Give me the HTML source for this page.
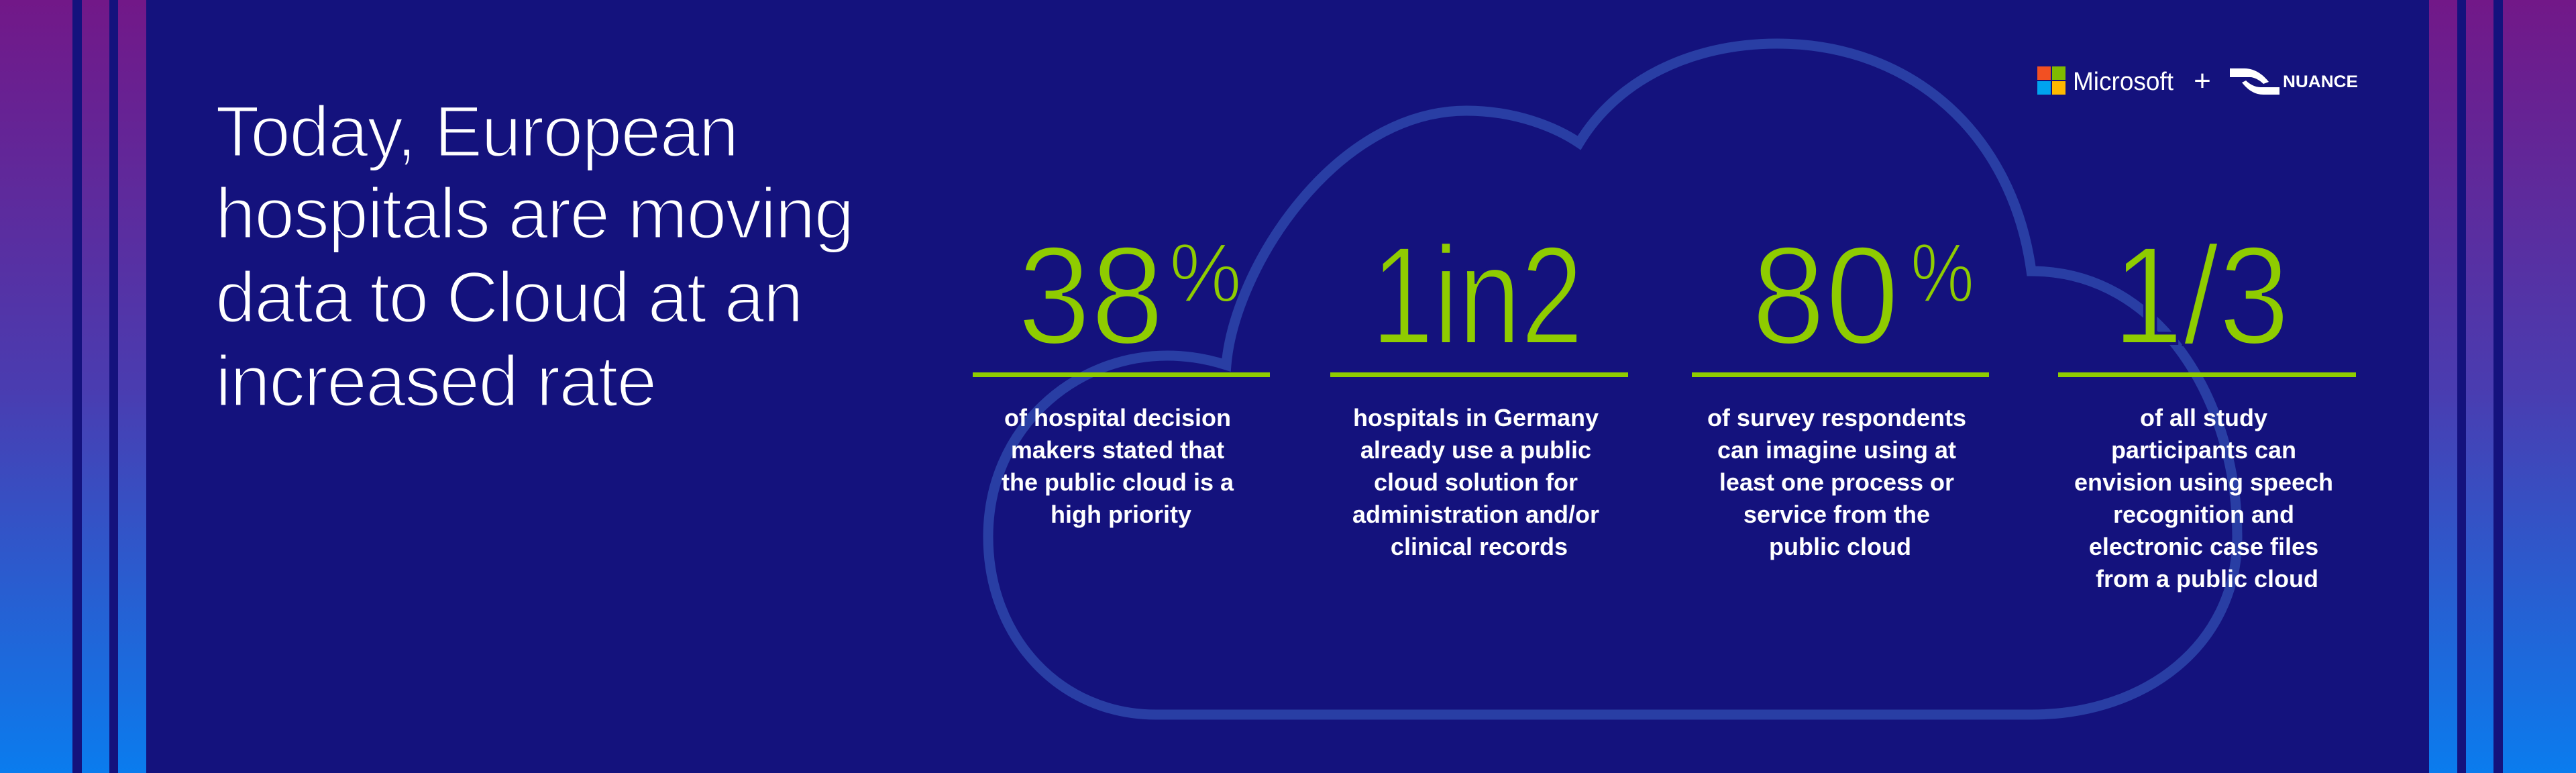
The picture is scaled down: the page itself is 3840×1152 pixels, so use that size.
<!DOCTYPE html>
<html><head><meta charset="utf-8"><style>
html,body{margin:0;padding:0;background:#14127d;}
svg{display:block;}
</style></head><body>
<svg width="3840" height="1152" viewBox="0 0 3840 1152" xmlns="http://www.w3.org/2000/svg">
<defs>
<linearGradient id="g" x1="0" y1="0" x2="0" y2="1">
<stop offset="0" stop-color="#721888"/>
<stop offset="0.5" stop-color="#4a3cb0"/>
<stop offset="1" stop-color="#0a7cee"/>
</linearGradient>
</defs>
<rect x="0" y="0" width="3840" height="1152" fill="#14127d"/>
<g>
<rect x="0" y="0" width="108" height="1152" fill="url(#g)"/>
<rect x="122" y="0" width="41" height="1152" fill="url(#g)"/>
<rect x="176" y="0" width="42" height="1152" fill="url(#g)"/>
</g>
<g>
<rect x="3621" y="0" width="42" height="1152" fill="url(#g)"/>
<rect x="3676" y="0" width="41" height="1152" fill="url(#g)"/>
<rect x="3731" y="0" width="109" height="1152" fill="url(#g)"/>
</g>
<path fill="none" stroke="#293ea4" stroke-width="15" stroke-linejoin="miter"
d="M 1723 1065 C 1580 1065 1473 950 1473 800 C 1473 640 1600 530 1740 530 C 1770 530 1800 535 1828 544 C 1840 400 1990 165 2186 165 C 2260 165 2320 190 2354 213 C 2410 120 2520 65 2649 65 C 2850 65 3000 200 3028 404 C 3220 404 3335 600 3335 800 C 3335 960 3200 1065 3028 1065 Z"/>

<g font-family="Liberation Sans, sans-serif" font-size="108" fill="#ffffff" stroke="#14127d" stroke-width="3" letter-spacing="-2">
<text x="321" y="233">Today, European</text>
<text x="321" y="355">hospitals are moving</text>
<text x="321" y="480">data to Cloud at an</text>
<text x="321" y="605">increased rate</text>
</g>

<g>
<rect x="3037" y="99" width="20" height="20" fill="#f25022"/>
<rect x="3059" y="99" width="20" height="20" fill="#7fba00"/>
<rect x="3037" y="121" width="20" height="20" fill="#00a4ef"/>
<rect x="3059" y="121" width="20" height="20" fill="#ffb900"/>
<text x="3090" y="134" font-family="Liberation Sans, sans-serif" font-size="38" fill="#fff" textLength="150" lengthAdjust="spacingAndGlyphs">Microsoft</text>
<text x="3283" y="135" font-family="Liberation Sans, sans-serif" font-size="44" fill="#fff" text-anchor="middle">+</text>
<path d="M3324 102 h22 c16 0 28 10 36 20 l-8 3 c-6 -6 -14 -10 -20 -10 h-30 z M3398 141 h-24 c-14 0 -24 -8 -32 -18 l6 -3 c6 6 14 10 22 10 h28 z" fill="#fff"/>
<text x="3403" y="130" font-family="Liberation Sans, sans-serif" font-size="25" font-weight="bold" fill="#fff" textLength="112" lengthAdjust="spacingAndGlyphs">NUANCE</text>
</g>

<g font-family="Liberation Sans, sans-serif" fill="#8fcc00" stroke="#14127d" stroke-width="4">
<g>
<text x="1517" y="512" font-size="208" textLength="218" lengthAdjust="spacingAndGlyphs">38</text>
<text x="1743" y="450" font-size="125" stroke-width="3" textLength="108" lengthAdjust="spacingAndGlyphs">%</text>
</g>
<text x="2044" y="512" font-size="208" textLength="316" lengthAdjust="spacingAndGlyphs">1in2</text>
<g>
<text x="2611" y="512" font-size="208" textLength="220" lengthAdjust="spacingAndGlyphs">80</text>
<text x="2848" y="450" font-size="125" stroke-width="3" textLength="95" lengthAdjust="spacingAndGlyphs">%</text>
</g>
<text x="3149" y="512" font-size="208" textLength="264" lengthAdjust="spacingAndGlyphs">1/3</text>
</g>

<g fill="#8fcc00">
<rect x="1450" y="555" width="443" height="7"/>
<rect x="1983" y="555" width="444" height="7"/>
<rect x="2522" y="555" width="443" height="7"/>
<rect x="3068" y="555" width="444" height="7"/>
</g>

<g font-family="Liberation Sans, sans-serif" font-size="36" font-weight="bold" fill="#ffffff" text-anchor="middle">
<text x="1671">
<tspan x="1671" y="635">of hospital decision</tspan>
<tspan x="1671" y="683">makers stated that</tspan>
<tspan x="1671" y="731">the public cloud is a</tspan>
<tspan x="1671" y="779">high priority</tspan>
</text>
<text x="2205">
<tspan x="2205" y="635">hospitals in Germany</tspan>
<tspan x="2205" y="683">already use a public</tspan>
<tspan x="2205" y="731">cloud solution for</tspan>
<tspan x="2205" y="779">administration and/or</tspan>
<tspan x="2205" y="827">clinical records</tspan>
</text>
<text x="2743">
<tspan x="2743" y="635">of survey respondents</tspan>
<tspan x="2743" y="683">can  imagine using at</tspan>
<tspan x="2743" y="731">least one process or</tspan>
<tspan x="2743" y="779">service from the</tspan>
<tspan x="2743" y="827">public cloud</tspan>
</text>
<text x="3290">
<tspan x="3290" y="635">of all study</tspan>
<tspan x="3290" y="683">participants can</tspan>
<tspan x="3290" y="731">envision using speech</tspan>
<tspan x="3290" y="779">recognition and</tspan>
<tspan x="3290" y="827">electronic case files</tspan>
<tspan x="3290" y="875">from a public cloud</tspan>
</text>
</g>
</svg>
</body></html>
